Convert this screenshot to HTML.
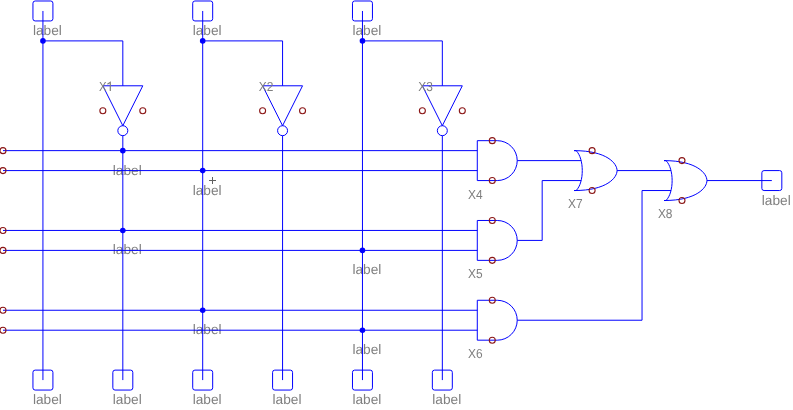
<!DOCTYPE html>
<html><head><meta charset="utf-8"><title>Logic circuit</title>
<style>html,body{margin:0;padding:0;background:#fff;}svg{display:block;}</style></head>
<body><svg width="793" height="410" viewBox="0 0 793 410">
<rect width="793" height="410" fill="#fff"/>
<g font-family="Liberation Sans, sans-serif" font-size="13.7" text-rendering="geometricPrecision" fill="#7f7f7f" style="mix-blend-mode:multiply">
<text x="32.94" y="35">label</text>
<text x="192.7" y="35">label</text>
<text x="352.46" y="35">label</text>
<text x="32.94" y="404">label</text>
<text x="112.82" y="404">label</text>
<text x="192.7" y="404">label</text>
<text x="272.58" y="404">label</text>
<text x="352.46" y="404">label</text>
<text x="432.34" y="404">label</text>
<text x="761.8" y="205">label</text>
<text x="112.82" y="175">label</text>
<text x="192.7" y="195">label</text>
<text x="112.82" y="254">label</text>
<text x="352.46" y="274">label</text>
<text x="192.7" y="334">label</text>
<text x="352.46" y="354">label</text>
</g>
<g transform="scale(0.9985,0.9976)">
<g fill="none" stroke="#0000ff" stroke-width="1">
<rect x="33" y="1" width="20" height="20" rx="2.2"/>
<rect x="193" y="1" width="20" height="20" rx="2.2"/>
<rect x="353" y="1" width="20" height="20" rx="2.2"/>
<rect x="33" y="371" width="20" height="20" rx="2.2"/>
<rect x="113" y="371" width="20" height="20" rx="2.2"/>
<rect x="193" y="371" width="20" height="20" rx="2.2"/>
<rect x="273" y="371" width="20" height="20" rx="2.2"/>
<rect x="353" y="371" width="20" height="20" rx="2.2"/>
<rect x="433" y="371" width="20" height="20" rx="2.2"/>
<rect x="763" y="171" width="20" height="20" rx="2.2"/>
<path d="M103 86H143L123 126Z"/>
<circle cx="123" cy="131" r="5"/>
<path d="M263 86H303L283 126Z"/>
<circle cx="283" cy="131" r="5"/>
<path d="M423 86H463L443 126Z"/>
<circle cx="443" cy="131" r="5"/>
<path d="M478 141H498A20 20 0 0 1 498 181H478Z"/>
<path d="M478 221H498A20 20 0 0 1 498 261H478Z"/>
<path d="M478 301H498A20 20 0 0 1 498 341H478Z"/>
<path d="M577 151H575C608 151 618 164 618 171C618 178 608 191 575 191H577C585.2 183 585.2 159 577 151"/>
<path d="M667 161H665C698 161 708 174 708 181C708 188 698 201 665 201H667C675.2 193 675.2 169 667 161"/>
<path d="M43 11V381"/>
<path d="M43 41H123V86"/>
<path d="M203 11V381"/>
<path d="M203 41H283V86"/>
<path d="M363 11V381"/>
<path d="M363 41H443V86"/>
<path d="M123 136V381"/>
<path d="M283 136V381"/>
<path d="M443 136V381"/>
<path d="M3 151H478"/>
<path d="M3 171H478"/>
<path d="M3 231H478"/>
<path d="M3 251H478"/>
<path d="M3 311H478"/>
<path d="M3 331H478"/>
<path d="M518 161H582"/>
<path d="M518 241H543V181H582"/>
<path d="M518 321H643V191H672"/>
<path d="M618 171H672"/>
<path d="M708 181H773"/>
</g>
<g fill="#0000ff">
<circle cx="43" cy="41" r="2.8"/>
<circle cx="203" cy="41" r="2.8"/>
<circle cx="363" cy="41" r="2.8"/>
<circle cx="123" cy="151" r="2.8"/>
<circle cx="203" cy="171" r="2.8"/>
<circle cx="123" cy="231" r="2.8"/>
<circle cx="363" cy="251" r="2.8"/>
<circle cx="203" cy="311" r="2.8"/>
<circle cx="363" cy="331" r="2.8"/>
</g>
<g fill="none" stroke="#8b1616" stroke-width="1.1">
<circle cx="3" cy="151" r="3"/>
<circle cx="3" cy="171" r="3"/>
<circle cx="3" cy="231" r="3"/>
<circle cx="3" cy="251" r="3"/>
<circle cx="3" cy="311" r="3"/>
<circle cx="3" cy="331" r="3"/>
<circle cx="103" cy="111" r="3"/><circle cx="143" cy="111" r="3"/>
<circle cx="263" cy="111" r="3"/><circle cx="303" cy="111" r="3"/>
<circle cx="423" cy="111" r="3"/><circle cx="463" cy="111" r="3"/>
<circle cx="493" cy="141" r="3"/><circle cx="493" cy="181" r="3"/>
<circle cx="493" cy="221" r="3"/><circle cx="493" cy="261" r="3"/>
<circle cx="493" cy="301" r="3"/><circle cx="493" cy="341" r="3"/>
<circle cx="593" cy="151" r="3"/><circle cx="593" cy="191" r="3"/>
<circle cx="683" cy="161" r="3"/><circle cx="683" cy="201" r="3"/>
</g>
</g>
<path d="M209 180.5H216M212.5 177V184" stroke="#606060" stroke-width="1" fill="none"/>
<g font-family="Liberation Sans, sans-serif" font-size="13.0" text-rendering="geometricPrecision" fill="#7f7f7f">
<text x="98.9" y="91" textLength="7.6" lengthAdjust="spacingAndGlyphs">X</text>
<text x="258.8" y="91" textLength="14.6" lengthAdjust="spacingAndGlyphs">X2</text>
<text x="418.2" y="91" textLength="14.6" lengthAdjust="spacingAndGlyphs">X3</text>
<text x="468" y="199" textLength="14.6" lengthAdjust="spacingAndGlyphs">X4</text>
<text x="468" y="278" textLength="14.6" lengthAdjust="spacingAndGlyphs">X5</text>
<text x="468" y="358" textLength="14.6" lengthAdjust="spacingAndGlyphs">X6</text>
<text x="568" y="208" textLength="14.6" lengthAdjust="spacingAndGlyphs">X7</text>
<text x="657.9" y="218" textLength="14.6" lengthAdjust="spacingAndGlyphs">X8</text>
<path d="M107.4 84.3L110.3 82.3V91" fill="none" stroke="#7f7f7f" stroke-width="1.2"/>
</g>
</svg></body></html>
